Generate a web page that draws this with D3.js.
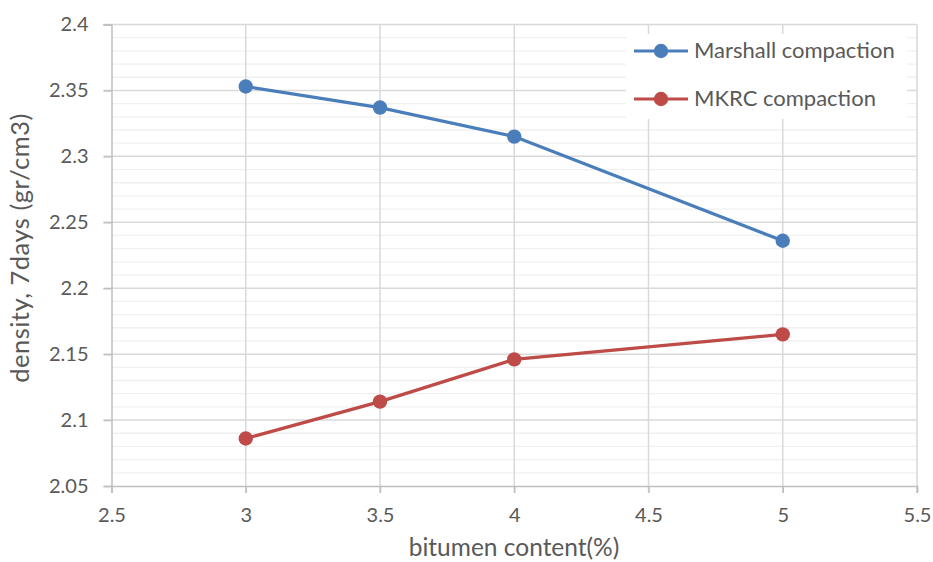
<!DOCTYPE html>
<html>
<head>
<meta charset="utf-8">
<script src="https://cdn.jsdelivr.net/npm/d3@7/dist/d3.min.js"></script>
<style>
  html, body { margin: 0; padding: 0; background: #fff; }
  svg { display: block; font-family: Lato, "Open Sans", sans-serif; }
</style>
</head>
<body>
<svg id="chart" width="933" height="562"></svg>
<script>
// Bitumen content (%) tested
const bitumen = [3, 3.5, 4, 5];
// 7-day density (gr/cm3) for each compaction method
const marshall = [2.353, 2.337, 2.315, 2.236];
const mkrc = [2.086, 2.114, 2.146, 2.165];
const seriesNames = ["Marshall compaction", "MKRC compaction"];
const seriesColors = ["#4a7ebb", "#be4b48"];
const xTicks = [2.5, 3, 3.5, 4, 4.5, 5, 5.5];
const yTicks = [2.05, 2.1, 2.15, 2.2, 2.25, 2.3, 2.35, 2.4];

const svg = d3.select("#chart");
const x = d3.scaleLinear().domain([2.5, 5.5]).range([111.5, 917]);
const y = d3.scaleLinear().domain([2.05, 2.4]).range([486, 24.5]);

// minor horizontal grid
const minor = d3.range(2.05, 2.4001, 0.01).map(v => +v.toFixed(2)).filter(v => !yTicks.includes(v));
svg.append("g").selectAll("line").data(minor).join("line")
  .attr("x1", x(2.5)).attr("x2", x(5.5))
  .attr("y1", d => y(d)).attr("y2", d => y(d))
  .attr("stroke", "#f0f0f0").attr("stroke-width", 1.3);

// major grid
svg.append("g").selectAll("line").data(yTicks.slice(1)).join("line")
  .attr("x1", x(2.5) - 8).attr("x2", x(5.5))
  .attr("y1", d => y(d)).attr("y2", d => y(d))
  .attr("stroke", "#d9d9d9").attr("stroke-width", 1.5);
svg.append("g").selectAll("line").data(xTicks.slice(1)).join("line")
  .attr("x1", d => x(d)).attr("x2", d => x(d))
  .attr("y1", y(2.4)).attr("y2", y(2.05) + 7)
  .attr("stroke", "#d9d9d9").attr("stroke-width", 1.5);

// axes
const xAxis = svg.append("g").attr("transform", `translate(0,${y(2.05)})`)
  .call(d3.axisBottom(x).tickValues(xTicks).tickSize(7).tickPadding(15).tickFormat(d3.format("")));
const yAxis = svg.append("g").attr("transform", `translate(${x(2.5)},0)`)
  .call(d3.axisLeft(y).tickValues(yTicks).tickSize(8).tickPadding(15).tickFormat(d3.format("")));
[xAxis, yAxis].forEach(a => {
  a.select(".domain").attr("stroke", "#bfbfbf").attr("stroke-width", 1.5);
  a.selectAll(".tick line").attr("stroke", "#bfbfbf").attr("stroke-width", 1.5);
  a.selectAll("text").attr("fill", "#595959").style("font-size", "20px").style("font-family", "Lato, 'Open Sans', sans-serif");
});

// series lines and markers
const line = d3.line().x((d, i) => x(bitumen[i])).y(d => y(d));
[marshall, mkrc].forEach((vals, k) => {
  svg.append("path").datum(vals).attr("d", line)
    .attr("fill", "none").attr("stroke", seriesColors[k]).attr("stroke-width", 3.2);
  svg.append("g").selectAll("circle").data(vals).join("circle")
    .attr("cx", (d, i) => x(bitumen[i])).attr("cy", d => y(d)).attr("r", 7.2)
    .attr("fill", seriesColors[k]);
});

// axis titles
svg.append("text").attr("x", 514).attr("y", 556).attr("text-anchor", "middle")
  .attr("fill", "#595959").style("font-size", "24.5px").text("bitumen content(%)");
svg.append("text").attr("transform", `translate(29,248) rotate(-90)`)
  .attr("text-anchor", "middle").attr("fill", "#595959").style("font-size", "25.5px")
  .style("letter-spacing", "0.5px")
  .text("density, 7days (gr/cm3)");

// legend
const legend = svg.append("g");
legend.append("rect").attr("x", 626).attr("y", 34).attr("width", 281).attr("height", 85).attr("fill", "#fff");
seriesNames.forEach((name, k) => {
  const ly = 51 + k * 48;
  legend.append("line").attr("x1", 634).attr("x2", 688).attr("y1", ly).attr("y2", ly)
    .attr("stroke", seriesColors[k]).attr("stroke-width", 3.2);
  legend.append("circle").attr("cx", 661).attr("cy", ly).attr("r", 7.2).attr("fill", seriesColors[k]);
  legend.append("text").attr("x", 694).attr("y", ly + 7).attr("fill", "#595959")
    .style("font-size", "22px").text(name);
});
</script>
</body>
</html>
